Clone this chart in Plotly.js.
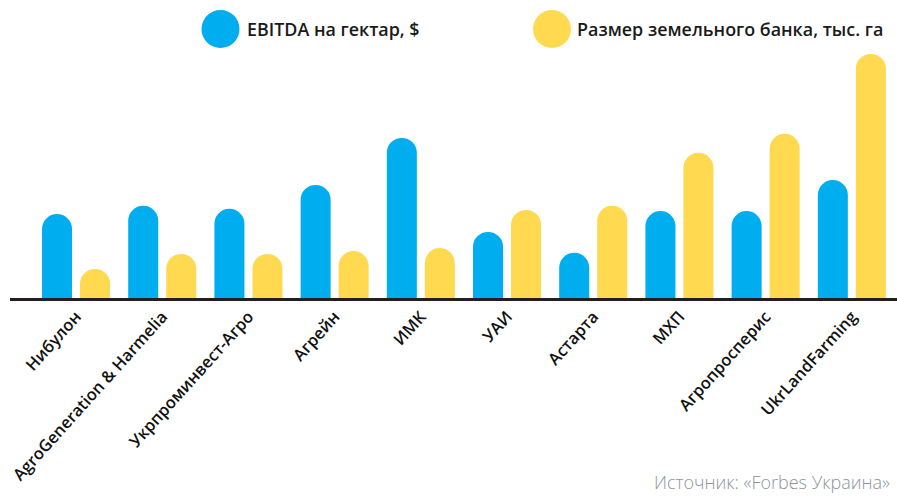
<!DOCTYPE html>
<html>
<head>
<meta charset="utf-8">
<script src="https://cdn.plot.ly/plotly-3.0.1.min.js"></script>
<style>
  html, body { margin: 0; padding: 0; background: #fff; }
  #chart { width: 897px; height: 504px; }
</style>
</head>
<body>
<div id="chart"></div>
<script>
// Companies (x categories)
const companies = ["Нибулон", "AgroGeneration & Harmelia", "Укрпроминвест-Агро", "Агрейн", "ИМК",
                   "УАИ", "Астарта", "МХП", "Агропросперис", "UkrLandFarming"];
// EBITDA per hectare, $ (estimated)
const ebitdaPerHa = [225, 247, 239, 303, 429, 177, 121, 233, 233, 316];
// Land bank size, thousand ha (estimated)
const landBank = [78, 118, 118, 126, 134, 236, 247, 389, 440, 654];

const seriesNames = ["EBITDA на гектар, $", "Размер земельного банка, тыс. га"];
const sourceText = "Источник: «Forbes Украина»";

const BLUE = "#00AEEF";
const YELLOW = "#FFD94F";
const FONT = "Open Sans, Roboto, sans-serif";

const traces = [
  {
    type: "bar", x: companies, y: ebitdaPerHa, name: seriesNames[0],
    marker: { color: BLUE, cornerradius: "50%" }, showlegend: false, hoverinfo: "x+y"
  },
  {
    type: "bar", x: companies, y: landBank, name: seriesNames[1],
    marker: { color: YELLOW, cornerradius: "50%" }, showlegend: false, hoverinfo: "x+y"
  }
];

const layout = {
  width: 897, height: 504,
  margin: { l: 10, r: 0, t: 48, b: 206 },
  paper_bgcolor: "#ffffff", plot_bgcolor: "#ffffff",
  barmode: "group", bargap: 0.118, bargroupgap: 0.21,
  showlegend: false,
  font: { family: FONT, color: "#1a1a1a" },
  xaxis: {
    type: "category", range: [-0.766, 9.524],
    showline: true, linecolor: "#231f20", linewidth: 2.5,
    ticks: "", showgrid: false, zeroline: false,
    tickangle: -48,
    tickfont: { family: FONT, size: 16.5, color: "#111", weight: 600 }
  },
  yaxis: {
    range: [0, 670], visible: false, showgrid: false, zeroline: false, fixedrange: true
  },
  shapes: [
    { type: "circle", xref: "paper", yref: "paper", xsizemode: "pixel", ysizemode: "pixel",
      xanchor: (220.5 - 10) / 887, yanchor: (298 - 29) / 250,
      x0: -19, x1: 19, y0: -19, y1: 19, fillcolor: BLUE, line: { width: 0 } },
    { type: "circle", xref: "paper", yref: "paper", xsizemode: "pixel", ysizemode: "pixel",
      xanchor: (552 - 10) / 887, yanchor: (298 - 29) / 250,
      x0: -19, x1: 19, y0: -19, y1: 19, fillcolor: YELLOW, line: { width: 0 } }
  ],
  annotations: [
    { text: seriesNames[0], xref: "paper", yref: "paper", x: (245 - 10) / 887, y: (298 - 29) / 250,
      xanchor: "left", yanchor: "middle", showarrow: false,
      font: { family: FONT, size: 17.9, color: "#1a1a1a", weight: 600 } },
    { text: seriesNames[1], xref: "paper", yref: "paper", x: (575 - 10) / 887, y: (298 - 29) / 250,
      xanchor: "left", yanchor: "middle", showarrow: false,
      font: { family: FONT, size: 17.9, color: "#1a1a1a", weight: 600 } },
    { text: sourceText, xref: "paper", yref: "paper", x: (652 - 10) / 887, y: (298 - 482) / 250,
      xanchor: "left", yanchor: "middle", showarrow: false,
      font: { family: FONT, size: 18, color: "#8c949b", weight: 300 } }
  ]
};

Plotly.newPlot("chart", traces, layout, { displayModeBar: false, staticPlot: true });
</script>
</body>
</html>
